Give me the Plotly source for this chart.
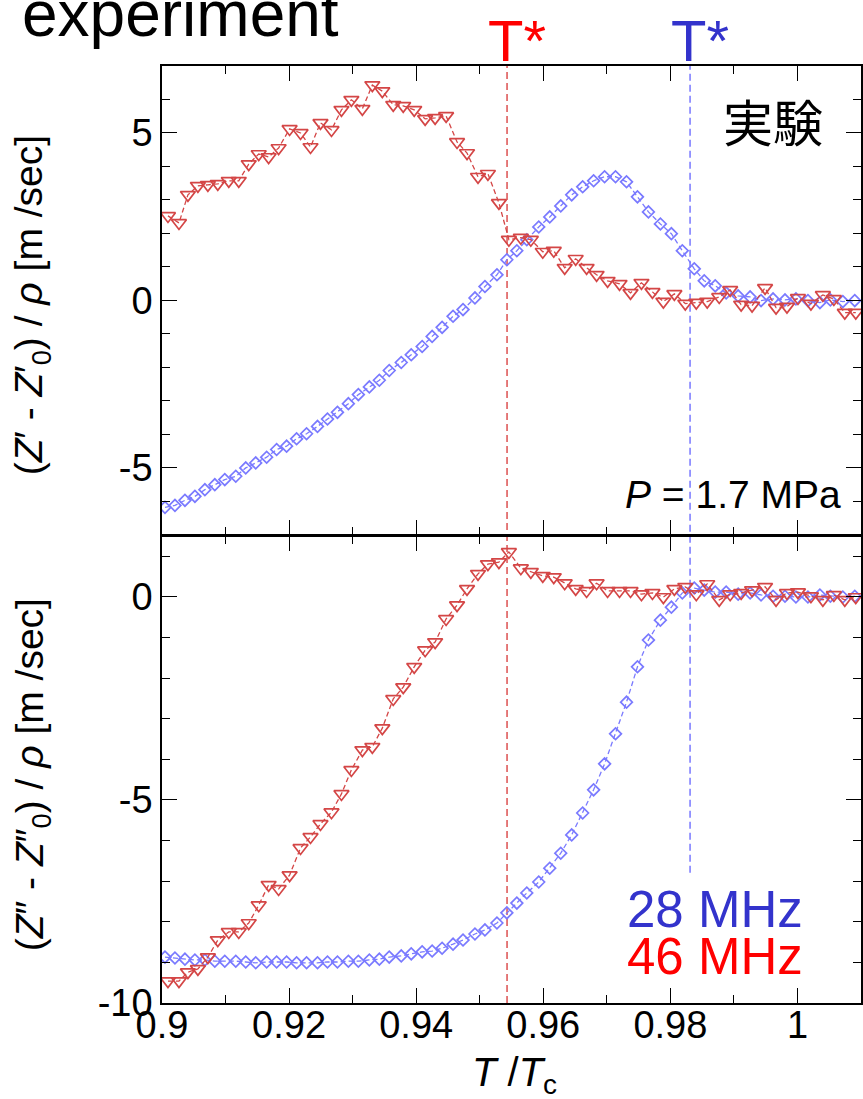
import plotly.graph_objects as go

# ---- data ----
T_46 = [0.90094, 0.90267, 0.90408, 0.90565, 0.90722, 0.90878, 0.91051, 0.91208, 0.91365, 0.91522,
        0.91678, 0.91835, 0.92008, 0.92180, 0.92337, 0.92494, 0.92667, 0.92824, 0.92980, 0.93153,
        0.93310, 0.93467, 0.93639, 0.93796, 0.93969, 0.94141, 0.94298, 0.94471, 0.94643, 0.94800,
        0.94973, 0.95129, 0.95302, 0.95459, 0.95647, 0.95804, 0.95992, 0.96165, 0.96337, 0.96510,
        0.96682, 0.96839, 0.97012, 0.97200, 0.97373, 0.97545, 0.97718, 0.97890, 0.98063, 0.98235,
        0.98408, 0.98580, 0.98769, 0.98941, 0.99114, 0.99286, 0.99490, 0.99663, 0.99835, 1.00008,
        1.00212, 1.00400, 1.00573, 1.00745, 1.00918]
Zre_46 = [2.52, 2.31, 3.15, 3.42, 3.45, 3.48, 3.57, 3.57, 4.07, 4.37,
          4.28, 4.55, 5.12, 5.00, 4.58, 5.30, 5.09, 5.69, 5.99, 5.72,
          6.43, 6.25, 5.84, 5.81, 5.69, 5.42, 5.45, 5.51, 4.73, 4.40,
          3.69, 3.78, 2.91, 1.81, 1.87, 1.81, 1.45, 1.48, 0.97, 1.24,
          0.97, 0.76, 0.58, 0.49, 0.22, 0.52, 0.25, -0.04, 0.19, -0.10,
          -0.07, -0.04, 0.10, 0.31, -0.13, -0.16, 0.37, -0.22, -0.19, 0.07,
          -0.10, 0.16, 0.04, -0.37, -0.37]
Zim_46 = [-9.46, -9.46, -9.24, -9.16, -8.87, -8.45, -8.25, -8.25, -8.03, -7.59,
          -7.09, -7.19, -6.85, -6.18, -5.91, -5.59, -5.30, -4.85, -4.26, -3.77,
          -3.69, -3.23, -2.51, -2.22, -1.72, -1.31, -1.11, -0.54, -0.20, 0.20,
          0.57, 0.81, 0.86, 1.11, 0.71, 0.62, 0.52, 0.49, 0.34, 0.20,
          0.15, 0.34, 0.15, 0.15, 0.15, 0.07, 0.10, 0.00, 0.20, 0.25,
          0.07, 0.32, -0.07, 0.07, 0.10, 0.17, 0.25, -0.07, 0.10, 0.12,
          0.02, -0.07, 0.05, -0.07, 0.00]

T_28 = [0.90047, 0.90204, 0.90361, 0.90518, 0.90675, 0.90831, 0.90988, 0.91161, 0.91318, 0.91475,
        0.91647, 0.91804, 0.91961, 0.92118, 0.92275, 0.92447, 0.92604, 0.92761, 0.92933, 0.93090,
        0.93263, 0.93420, 0.93576, 0.93765, 0.93922, 0.94094, 0.94251, 0.94408, 0.94580, 0.94737,
        0.94925, 0.95082, 0.95271, 0.95427, 0.95584, 0.95741, 0.95929, 0.96102, 0.96275, 0.96447,
        0.96620, 0.96792, 0.96965, 0.97137, 0.97310, 0.97482, 0.97655, 0.97843, 0.98016, 0.98188,
        0.98376, 0.98533, 0.98706, 0.98878, 0.99067, 0.99255, 0.99427, 0.99616, 0.99804, 0.99976,
        1.00165, 1.00353, 1.00518, 1.00714, 1.00902]
Zre_28 = [-6.19, -6.13, -5.98, -5.86, -5.66, -5.51, -5.36, -5.26, -5.01, -4.86,
          -4.69, -4.46, -4.36, -4.14, -3.99, -3.77, -3.55, -3.35, -3.09, -2.82,
          -2.59, -2.39, -2.10, -1.86, -1.63, -1.38, -1.08, -0.81, -0.48, -0.28,
          0.07, 0.41, 0.76, 1.21, 1.48, 1.81, 2.19, 2.49, 2.82, 3.15,
          3.39, 3.57, 3.69, 3.69, 3.54, 3.09, 2.64, 2.28, 1.99, 1.48,
          0.94, 0.58, 0.43, 0.22, 0.13, 0.10, -0.01, 0.04, 0.01, 0.04,
          -0.01, -0.07, 0.01, -0.04, -0.01]
Zim_28 = [-8.87, -8.89, -8.92, -8.94, -8.94, -8.97, -8.97, -8.97, -8.99, -9.01,
          -8.99, -8.99, -8.99, -9.01, -9.01, -9.01, -8.99, -8.99, -8.97, -8.97,
          -8.94, -8.92, -8.87, -8.84, -8.79, -8.74, -8.72, -8.65, -8.55, -8.45,
          -8.30, -8.20, -8.03, -7.78, -7.54, -7.29, -7.02, -6.68, -6.31, -5.86,
          -5.32, -4.75, -4.11, -3.37, -2.59, -1.72, -1.06, -0.57, -0.25, 0.10,
          0.22, 0.17, 0.12, 0.12, 0.07, 0.10, 0.05, 0.02, 0.02, 0.00,
          0.00, 0.05, 0.02, 0.00, 0.02]

T_star_46 = 0.9543
T_star_28 = 0.9831

x_ticks = [0.9, 0.92, 0.94, 0.96, 0.98, 1.0]
x_tick_text = ["0.9", "0.92", "0.94", "0.96", "0.98", "1"]
y1_ticks = [-5, 0, 5]
y1_tick_text = ["-5", "0", "5"]
y2_ticks = [-10, -5, 0]
y2_tick_text = ["-10", "-5", "0"]

RED_M = "rgb(212,70,70)"
BLUE_M = "rgb(122,122,255)"
FONT = "Liberation Sans, Arial, sans-serif"

fig = go.Figure()

def add_series(x, y, xa, ya, color, symbol, size):
    fig.add_trace(go.Scatter(
        x=x, y=y, xaxis=xa, yaxis=ya, mode="lines+markers",
        line=dict(color=color, width=1.3, dash="5px,3px"),
        marker=dict(symbol=symbol, size=size, color=color,
                    line=dict(color=color, width=1.7)),
        showlegend=False))

add_series(T_28, Zre_28, "x", "y", BLUE_M, "diamond-open", 9)
add_series(T_46, Zre_46, "x", "y", RED_M, "triangle-down-open", 13)
add_series(T_28, Zim_28, "x2", "y2", BLUE_M, "diamond-open", 9)
add_series(T_46, Zim_46, "x2", "y2", RED_M, "triangle-down-open", 13)

axis_common = dict(showline=True, linewidth=1.6, linecolor="black", mirror="ticks",
                   ticks="inside", ticklen=15, tickwidth=1.3, tickcolor="black",
                   showgrid=False, zeroline=False,
                   tickfont=dict(family=FONT, size=38, color="black"))

xcommon = dict(axis_common, range=[0.9, 1.01], tickvals=x_ticks, ticktext=x_tick_text,
               minor=dict(dtick=0.01, tick0=0.9, ticks="inside", ticklen=8,
                          tickwidth=1.2, tickcolor="black", showgrid=False))

ymin = dict(dtick=1, tick0=0, ticks="inside", ticklen=8, tickwidth=1.2,
            tickcolor="black", showgrid=False)

fig.update_layout(
    width=863, height=1099,
    margin=dict(l=162, r=0, t=66, b=96),
    paper_bgcolor="white", plot_bgcolor="white",
    xaxis=dict(xcommon, domain=[0, 1], anchor="y", showticklabels=False),
    xaxis2=dict(xcommon, domain=[0, 1], anchor="y2", matches="x", ticklabelstandoff=-12),
    yaxis=dict(axis_common, domain=[0.5, 1], range=[-7, 7],
               tickvals=y1_ticks, ticktext=y1_tick_text, minor=ymin),
    yaxis2=dict(axis_common, domain=[0, 0.4983], range=[-10, 1.5],
                tickvals=y2_ticks, ticktext=y2_tick_text, minor=ymin),
)

# vertical T* lines
fig.add_shape(type="line", xref="x2", yref="paper", x0=T_star_46, x1=T_star_46, y0=0, y1=1,
              line=dict(color="rgb(220,80,80)", width=1.5, dash="7px,4px"), layer="below")
fig.add_shape(type="line", xref="x2", yref="paper", x0=T_star_28, x1=T_star_28, y0=0.139, y1=1,
              line=dict(color="rgb(120,120,255)", width=1.5, dash="7px,4px"), layer="below")

ann = []
ann.append(dict(text="experiment", x=-0.2026, xanchor="left", y=1.0555, yanchor="middle",
                font=dict(family=FONT, size=64, color="black")))
ann.append(dict(text="T*", x=T_star_46, xref="x2", xshift=10, y=1.0267, yanchor="middle",
                font=dict(family=FONT, size=58, color="rgb(255,0,0)")))
ann.append(dict(text="T*", x=T_star_28, xref="x2", xshift=10, y=1.0267, yanchor="middle",
                font=dict(family=FONT, size=58, color="rgb(51,51,204)")))
ann.append(dict(text="実験", x=0.8745, y=0.9424, xanchor="center", yanchor="middle",
                font=dict(family="Noto Sans CJK JP", size=50, color="black")))
ann.append(dict(text="<i>P</i> = 1.7 MPa", x=0.9743, xanchor="right", y=0.5427, yanchor="middle",
                font=dict(family=FONT, size=39, color="black")))
ann.append(dict(text="28 MHz", x=0.920, xanchor="right", y=0.1003, yanchor="middle",
                font=dict(family=FONT, size=51, color="rgb(51,51,204)")))
ann.append(dict(text="46 MHz", x=0.920, xanchor="right", y=0.0491, yanchor="middle",
                font=dict(family=FONT, size=51, color="rgb(255,0,0)")))
ann.append(dict(text="(<i>Z</i>′ - <i>Z</i>′<sub>0</sub>) / <i>ρ</i> [m /sec]", x=-0.1855, y=0.745,
                xanchor="center", yanchor="middle", textangle=-90,
                font=dict(family=FONT, size=39, color="black")))
ann.append(dict(text="(<i>Z</i>″ - <i>Z</i>″<sub>0</sub>) / <i>ρ</i> [m /sec]", x=-0.1855, y=0.2433,
                xanchor="center", yanchor="middle", textangle=-90,
                font=dict(family=FONT, size=39, color="black")))
ann.append(dict(text="<i>T</i> /<i>T</i><sub>c</sub>", x=0.505, y=-0.0766, xanchor="center",
                yanchor="middle", font=dict(family=FONT, size=40, color="black")))

for a in ann:
    a.setdefault("xref", "paper")
    a.setdefault("yref", "paper")
    a["showarrow"] = False
    fig.add_annotation(**a)

fig.write_html("out.html")
